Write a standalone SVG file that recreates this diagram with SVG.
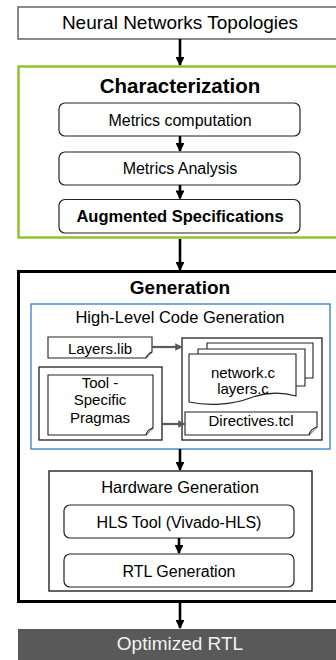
<svg xmlns="http://www.w3.org/2000/svg" width="336" height="660" viewBox="0 0 336 660">
<defs>
<style>
text{font-family:"Liberation Sans",Arial,sans-serif;text-anchor:middle;fill:#000}
.t16{font-size:16px}
.t15{font-size:15px}
.b{font-weight:bold}
.rr{fill:#fff;stroke:#222;stroke-width:1.2}
.doc{fill:#fff;stroke:#222;stroke-width:1.1}
.blk{stroke:#000;stroke-width:2.6;fill:none}
.gry{stroke:#595959;stroke-width:2.2;fill:none}
</style>
<marker id="ab" viewBox="0 0 10 10" refX="9" refY="5" markerWidth="3.6" markerHeight="3.4" orient="auto" markerUnits="strokeWidth"><path d="M0,0L10,5L0,10Z" fill="#000"/></marker>
<marker id="ag" viewBox="0 0 10 10" refX="9" refY="5" markerWidth="3.6" markerHeight="3.4" orient="auto" markerUnits="strokeWidth"><path d="M0,0L10,5L0,10Z" fill="#595959"/></marker>
</defs>
<rect width="336" height="660" fill="#fff"/>

<g id="topologies">
<rect x="18" y="7" width="324" height="32" fill="#fff" stroke="#595959" stroke-width="1.4"/>
<text x="180" y="29" style="font-size:19px">Neural Networks Topologies</text>
</g>

<g id="characterization">
<rect x="18.5" y="66.5" width="324" height="171" fill="#fff" stroke="#8DC21F" stroke-width="2.4"/>
<text x="180" y="93" class="b" style="font-size:20.5px">Characterization</text>
</g>
<g id="metrics-computation">
<rect x="59" y="103" width="241" height="33" rx="6" class="rr"/>
<text x="180" y="126" class="t16">Metrics computation</text>
</g>
<g id="metrics-analysis">
<rect x="59" y="152" width="241" height="33" rx="6" class="rr"/>
<text x="180" y="174" class="t16">Metrics Analysis</text>
</g>
<g id="augmented-specs">
<rect x="59" y="199.5" width="241" height="33.5" rx="6" class="rr"/>
<text x="180" y="222" class="t16 b" style="font-size:16.5px">Augmented Specifications</text>
</g>

<g id="generation">
<rect x="18.5" y="271.5" width="325" height="330" fill="#fff" stroke="#000" stroke-width="3"/>
<text x="180" y="294" class="b" style="font-size:19px">Generation</text>
</g>
<g id="hl-code-gen">
<rect x="31" y="304" width="299" height="145" fill="#fff" stroke="#2F7FC8" stroke-width="1.3"/>
<text x="180" y="323" style="font-size:16.5px">High-Level Code Generation</text>
</g>
<g id="layers-lib">
<path d="M48,337H152V352L146,358H48Z" class="doc"/>
<path d="M146,358C147,355 149,353 152,352" class="doc"/>
<text x="100" y="353.5" class="t15">Layers.lib</text>
</g>
<g id="pragmas">
<rect x="39" y="367" width="123" height="73" fill="#fff" stroke="#222" stroke-width="1.3"/>
<path d="M48,375H153V428L146,435H48Z" class="doc"/>
<path d="M146,435C147,431 149,429 153,428" class="doc"/>
<text x="100" y="388" class="t15">Tool -</text>
<text x="100" y="405" class="t15">Specific</text>
<text x="100" y="423" class="t15">Pragmas</text>
</g>
<g id="code-outputs">
<rect x="182" y="338" width="140" height="102" fill="#fff" stroke="#222" stroke-width="1.3"/>
<path d="M207,343H313V378H207Z" fill="#fff" stroke="#222" stroke-width="1.1"/>
<path d="M198,349H305V386H198Z" fill="#fff" stroke="#222" stroke-width="1.1"/>
<path d="M189,354H296V396C282,392 266,392 250,398C232,405 208,406 189,402Z" class="doc"/>
<text x="243" y="378" class="t15">network.c</text>
<text x="243" y="394" class="t15">layers.c</text>
</g>
<g id="directives">
<path d="M185,412H317V427L309,435H185Z" class="doc"/>
<path d="M309,435C310,431 313,428 317,427" class="doc"/>
<text x="251" y="426" class="t15">Directives.tcl</text>
</g>
<g id="hw-gen">
<rect x="49" y="471" width="263" height="120" fill="#fff" stroke="#222" stroke-width="1.4"/>
<text x="180" y="493" style="font-size:16.5px">Hardware Generation</text>
</g>
<g id="hls-tool">
<rect x="64" y="505" width="230" height="33" rx="6" class="rr"/>
<text x="179" y="528" class="t16">HLS Tool (Vivado-HLS)</text>
</g>
<g id="rtl-gen">
<rect x="64" y="554" width="230" height="33" rx="6" class="rr"/>
<text x="179" y="577" class="t16">RTL Generation</text>
</g>
<g id="optimized-rtl">
<rect x="18" y="629" width="324" height="31" fill="#595959"/>
<text x="180" y="650" style="font-size:19px;fill:#F2F2F2">Optimized RTL</text>
</g>

<g id="connectors">
<line x1="180" y1="39" x2="180" y2="65" class="blk" marker-end="url(#ab)"/>
<line x1="180" y1="136" x2="180" y2="151" class="blk" marker-end="url(#ab)"/>
<line x1="180" y1="185" x2="180" y2="198.5" class="blk" marker-end="url(#ab)"/>
<line x1="180" y1="239" x2="180" y2="270" class="blk" marker-end="url(#ab)"/>
<line x1="180" y1="449" x2="180" y2="470" class="blk" marker-end="url(#ab)"/>
<line x1="179" y1="538" x2="179" y2="553" class="blk" marker-end="url(#ab)"/>
<line x1="180" y1="603" x2="180" y2="628" class="blk" marker-end="url(#ab)"/>
<line x1="152" y1="347" x2="182" y2="347" class="gry" marker-end="url(#ag)"/>
<line x1="162" y1="424" x2="185" y2="424" class="gry" marker-end="url(#ag)"/>
</g>
</svg>
